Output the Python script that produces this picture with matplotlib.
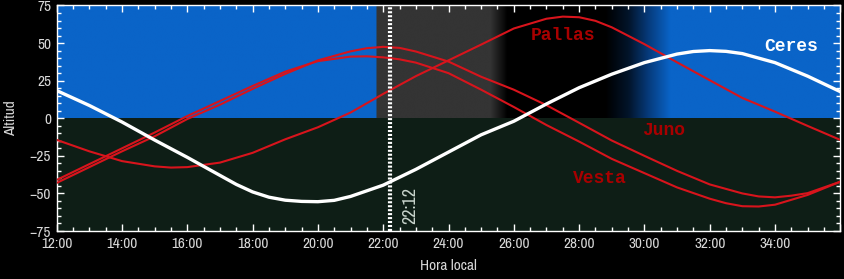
import matplotlib.pyplot as plt
import numpy as np
from matplotlib import font_manager
from matplotlib.ticker import MultipleLocator, FuncFormatter

# --- DATOS ---
ceres_h = [12, 13, 14, 15, 16, 17, 17.5, 18, 18.5, 19, 19.5, 20, 20.5, 21, 22, 23, 24,
           25, 26, 27, 28, 29, 30, 31, 31.5, 32, 32.5, 33, 34, 35, 36]
ceres = [18.4, 8.5, -2.5, -14.5, -26, -38, -44, -49, -52.5, -54.5, -55.3, -55.5, -54.6,
         -52, -44.5, -34, -22.5, -11, -2, 9.5, 20.3, 29.3, 37, 42.7, 44.4, 45, 44.5, 43, 37, 28, 17.7]

pallas_h = [12, 13, 14, 15, 15.5, 16, 17, 18, 19, 20, 21, 22, 23, 24, 25, 26, 27, 27.5,
            28, 28.5, 29, 30, 31, 32, 33, 34, 35, 36]
pallas = [-14.4, -22, -28.5, -32, -32.8, -32.5, -29.5, -23, -14, -6, 3.8, 16.2, 28, 38.5,
          49, 59.7, 66.2, 67.6, 67.2, 64.8, 60.5, 49.3, 37.2, 25.3, 13.5, 4.4, -5.1, -14.4]

juno_h = [12, 13, 14, 15, 16, 17, 18, 19, 20, 21, 21.5, 22, 22.5, 23, 24, 25, 26, 27,
          28, 29, 30, 31, 32, 33, 33.5, 34, 34.5, 35, 36]
juno = [-43, -32.5, -22, -12, -0.5, 9, 19.5, 29.5, 38.5, 44.5, 46.6, 47.5, 46.8, 44.4,
        37.7, 27.6, 19, 8.7, -3, -14.8, -25, -35, -44, -50, -52, -52.6, -51.5, -49.8, -42.2]

vesta_h = [12, 13, 14, 15, 16, 17, 18, 19, 20, 21, 21.5, 22, 22.5, 23, 24, 25, 26, 27,
           28, 29, 30, 31, 32, 32.5, 33, 33.5, 34, 35, 36]
vesta = [-41, -30.5, -20, -9.5, 1.5, 11.5, 21.5, 31, 38, 41, 41.2, 40.5, 39.2, 37, 30,
         19, 7.5, -4.5, -15.5, -27, -36.5, -46, -53.5, -56.5, -58.5, -58.7, -57.5, -51, -42.2]

# etiquetas: (texto, hora, altitud, color)
etiquetas = [
    ("Pallas", 27.5, 55, '#a80000'),
    ("Ceres", 34.5, 47.5, 'white'),
    ("Juno", 30.6, -8.3, '#a80000'),
    ("Vesta", 28.65, -40.4, '#a80000'),
]

hora_actual = 22.2
texto_hora = "22:12"

# cielo: paradas de color (hora, rgb)
cielo_t = [12, 21.78, 21.781, 25.27, 25.79, 28.8, 29.5, 30.1, 30.78, 36]
azul = (10, 100, 200)
gris = (52, 52, 52)
negro = (0, 0, 0)
cielo_rgb = [azul, azul, gris, gris, negro, negro,
             (2, 20, 42), (6, 58, 122), azul, azul]
suelo = '#0e1e16'


# --- FUENTE ESTRECHA (si hay alguna instalada) ---
def fuente_estrecha():
    fuentes = font_manager.fontManager.ttflist
    for f in fuentes:
        if 'Narrow' in f.name and f.weight in (400, 'normal', 'regular'):
            return f.name, 'normal', True
    for f in fuentes:
        if 'Condensed' in f.name and f.weight in (400, 'normal', 'regular'):
            return f.name, 'normal', True
    for f in fuentes:
        if f.stretch in ('condensed', 'semi-condensed') and f.weight in (400, 'normal', 'regular'):
            return f.name, f.stretch, True
    return 'DejaVu Sans', 'normal', False


fam, estiramiento, es_estrecha = fuente_estrecha()
talla = 11 if es_estrecha else 8.5
fuente = dict(family=[fam, 'DejaVu Sans'], fontstretch=estiramiento)

# --- LIENZO ---
fig = plt.figure(figsize=(8.44, 2.79), dpi=100, facecolor='black')
ax = fig.add_axes([0.0672, 0.172, 0.9284, 0.8083])
ax.set_facecolor('black')

xs = np.linspace(12, 36, 2400)
rgb = np.stack([np.interp(xs, cielo_t, [c[i] / 255 for c in cielo_rgb]) for i in range(3)], axis=-1)
ax.imshow(rgb[np.newaxis, :, :], extent=[12, 36, 0, 75], aspect='auto',
          origin='lower', zorder=0, interpolation='bilinear')
ax.axhspan(-75, 0, color=suelo, zorder=0, lw=0)

# --- CURVAS ---
rojo = '#d8141c'
ax.plot(pallas_h, pallas, color=rojo, lw=1.5, zorder=3)
ax.plot(juno_h, juno, color=rojo, lw=1.5, zorder=3)
ax.plot(vesta_h, vesta, color=rojo, lw=1.5, zorder=3)
ax.plot(ceres_h, ceres, color='white', lw=2.4, zorder=4)

for txt, x, y, c in etiquetas:
    ax.text(x, y, txt, color=c, fontsize=13, fontweight='bold',
            family=['Liberation Mono', 'DejaVu Sans Mono'], ha='center', va='center', zorder=6)

# línea de la hora actual
ax.axvline(hora_actual, color='white', lw=3, linestyle=(0, (0.5, 0.45)), zorder=5)
ax.text(hora_actual + 0.62, -57.7, texto_hora, rotation=90, color='#c8d4cc',
        fontsize=talla + 2, ha='center', va='center', zorder=6, **fuente)

# --- EJES ---
ax.set_xlim(12, 36)
ax.set_ylim(-75, 75)
ax.xaxis.set_major_locator(MultipleLocator(2))
ax.xaxis.set_minor_locator(MultipleLocator(0.5))
ax.yaxis.set_major_locator(MultipleLocator(25))
ax.yaxis.set_minor_locator(MultipleLocator(5))
ax.xaxis.set_major_formatter(FuncFormatter(
    lambda v, p: "" if v > 35 else f"{int(round(v)):02d}:00"))

ax.tick_params(which='both', direction='in', top=True, right=True,
               color='white', labelcolor='#d8d8d8', labelsize=talla, width=1)
ax.tick_params(which='major', length=5, pad=4)
ax.tick_params(which='minor', length=3)
for lab in ax.get_xticklabels() + ax.get_yticklabels():
    lab.set_family(fuente['family'])
    lab.set_stretch(estiramiento)
for s in ax.spines.values():
    s.set_color('white')
    s.set_linewidth(1)

ax.set_xlabel('Hora local', color='#d8d8d8', fontsize=talla, **fuente)
ax.set_ylabel('Altitud', color='#d8d8d8', fontsize=talla, **fuente)
ax.xaxis.set_label_coords(0.5, -0.125)
ax.yaxis.set_label_coords(-0.049, 0.5)

fig.savefig('out.png', dpi=100, facecolor='black')
